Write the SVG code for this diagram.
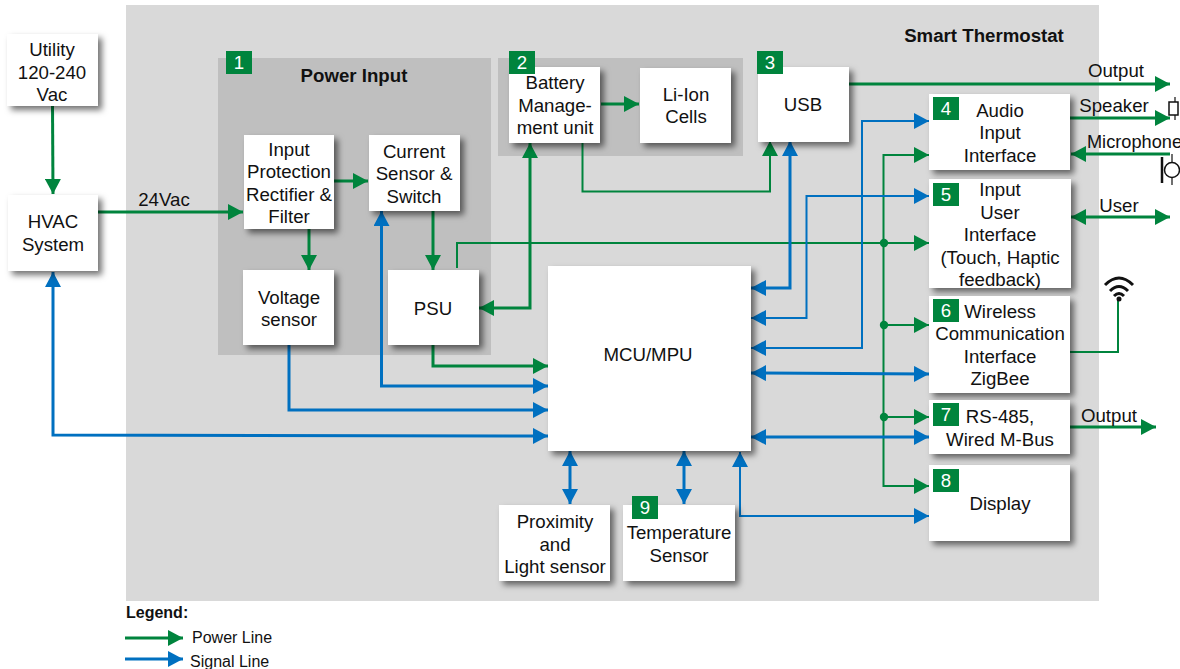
<svg xmlns="http://www.w3.org/2000/svg" width="1180" height="669" viewBox="0 0 1180 669">
<defs>
<filter id="sh" x="-20%" y="-20%" width="140%" height="140%"><feDropShadow dx="4" dy="4" stdDeviation="3" flood-color="#000" flood-opacity="0.55"/></filter>
<marker id="g" markerUnits="userSpaceOnUse" markerWidth="16" markerHeight="16" refX="15" refY="8" orient="auto-start-reverse"><path d="M0 0L15 8L0 16Z" fill="#00843d"/></marker>
<marker id="b" markerUnits="userSpaceOnUse" markerWidth="16" markerHeight="16" refX="15" refY="8" orient="auto-start-reverse"><path d="M0 0L15 8L0 16Z" fill="#0070c0"/></marker>
</defs>
<style>
text{font-family:"Liberation Sans",Arial,sans-serif;font-size:18.67px;fill:#111;text-anchor:middle}
.n rect.w{fill:#fff;filter:url(#sh)}
.tag{fill:#00843d}
.tn{fill:#fff}
.t{font-weight:700}
.p,.s{fill:none;stroke-width:3}
.p{stroke:#00843d}
.s{stroke:#0070c0}
.p.th,.s.th{stroke-width:2}
.e{marker-end:url(#g)}
.eb{marker-start:url(#g);marker-end:url(#g)}
.f{marker-end:url(#b)}
.fb{marker-start:url(#b);marker-end:url(#b)}
.l{text-anchor:start;font-size:16px}
</style>
<g id="backgrounds">
<rect x="126" y="5" width="973" height="596" fill="#d9d9d9"/>
<rect x="218" y="58" width="273" height="297" fill="#bfbfbf"/>
<rect x="498" y="58" width="245" height="98" fill="#bfbfbf"/>
</g>
<text x="984" y="42" class="t">Smart Thermostat</text>
<text x="354" y="82" class="t">Power Input</text>
<g id="connectors">
<path class="p e" d="M52.500 106L53 194"/>
<path class="p e" d="M98 212H243"/>
<path class="p e" d="M334 181H368"/>
<path class="p e" d="M309 228V270"/>
<path class="p e" d="M433 211V270"/>
<path class="p e" d="M601 104H639"/>
<path class="p eb" d="M479 308H530V143"/>
<path class="p th e" d="M582.500 142V191.500H770V141"/>
<path class="p e" d="M849 84H1170"/>
<path class="p e" d="M1070 118H1170"/>
<path class="p e" d="M1170 154H1071"/>
<path class="p eb" d="M1071 217H1170"/>
<path class="p th e" d="M457 268V243H929"/>
<path class="p th eb" d="M929 155H883.500V486H929"/>
<path class="p th e" d="M884 325H929"/>
<path class="p th e" d="M884 417H929"/>
<path class="p e" d="M433 345V366H548"/>
<path class="p th" d="M1070 352H1118V300"/>
<path class="p e" d="M1070 427H1156"/>
<path class="s f" d="M289 345V410H548"/>
<path class="s fb" d="M381.500 211V386H548"/>
<path class="s fb" d="M53 272V435L548 436"/>
<path class="s fb" d="M790 141V288H751"/>
<path class="s th fb" d="M929 121H862V348H751"/>
<path class="s th fb" d="M929 196H806.500V318H751"/>
<path class="s fb" d="M751 373L929 374"/>
<path class="s fb" d="M751 437H929"/>
<path class="s fb" d="M570 451V504"/>
<path class="s fb" d="M684 451V504"/>
<path class="s th fb" d="M740 452V516H929"/>
<path class="p e" d="M125 638H183"/>
<path class="s f" d="M125 659H183"/>
<circle cx="884" cy="243" r="4.200" fill="#00843d"/>
<circle cx="884" cy="325" r="4.200" fill="#00843d"/>
<circle cx="884" cy="417" r="4.200" fill="#00843d"/>
</g>
<g id="utility" class="n"><rect class="w" x="7" y="34" width="91" height="72"/><text x="52" y="56">Utility</text><text x="52" y="79">120-240</text><text x="52" y="101">Vac</text></g>
<g id="hvac" class="n"><rect class="w" x="8" y="195" width="90" height="76"/><text x="53" y="228">HVAC</text><text x="53" y="251">System</text></g>
<g id="input-protection" class="n"><rect class="w" x="244" y="135" width="90" height="94"/><text x="289" y="156">Input</text><text x="289" y="178">Protection</text><text x="289" y="201">Rectifier &amp;</text><text x="289" y="223">Filter</text></g>
<g id="current-sensor" class="n"><rect class="w" x="369" y="135" width="91" height="76"/><text x="414" y="158">Current</text><text x="414" y="180">Sensor &amp;</text><text x="414" y="203">Switch</text></g>
<g id="voltage-sensor" class="n"><rect class="w" x="243" y="270" width="91" height="75"/><text x="289" y="304">Voltage</text><text x="289" y="326">sensor</text></g>
<g id="psu" class="n"><rect class="w" x="388" y="270" width="91" height="75"/><text x="433" y="315">PSU</text></g>
<g id="battery" class="n"><rect class="w" x="509" y="67" width="91" height="76"/><text x="555" y="89">Battery</text><text x="555" y="112">Manage-</text><text x="555" y="134">ment unit</text></g>
<g id="li-ion" class="n"><rect class="w" x="640" y="68" width="91" height="75"/><text x="686" y="101">Li-Ion</text><text x="686" y="123">Cells</text></g>
<g id="usb" class="n"><rect class="w" x="758" y="67" width="91" height="75"/><text x="803" y="111">USB</text></g>
<g id="audio" class="n"><rect class="w" x="929" y="94" width="141" height="76"/><text x="1000" y="117">Audio</text><text x="1000" y="139">Input</text><text x="1000" y="162">Interface</text></g>
<g id="user-interface" class="n"><rect class="w" x="929" y="179" width="142" height="109"/><text x="1000" y="196">Input</text><text x="1000" y="219">User</text><text x="1000" y="241">Interface</text><text x="1000" y="264">(Touch, Haptic</text><text x="1000" y="286">feedback)</text></g>
<g id="wireless" class="n"><rect class="w" x="929" y="296" width="141" height="97"/><text x="1000" y="318">Wireless</text><text x="1000" y="340">Communication</text><text x="1000" y="363">Interface</text><text x="1000" y="385">ZigBee</text></g>
<g id="rs485" class="n"><rect class="w" x="929" y="400" width="141" height="54"/><text x="1000" y="423">RS-485,</text><text x="1000" y="446">Wired M-Bus</text></g>
<g id="display" class="n"><rect class="w" x="929" y="465" width="141" height="76"/><text x="1000" y="510">Display</text></g>
<g id="mcu" class="n"><rect class="w" x="548" y="266" width="203" height="185"/><text x="648" y="361">MCU/MPU</text></g>
<g id="proximity" class="n"><rect class="w" x="499" y="505" width="111" height="76"/><text x="555" y="528">Proximity</text><text x="555" y="551">and</text><text x="555" y="573">Light sensor</text></g>
<g id="temperature" class="n"><rect class="w" x="623" y="505" width="112" height="76"/><text x="679" y="539">Temperature</text><text x="679" y="562">Sensor</text></g>
<g id="tags">
<rect class="tag" x="226" y="51" width="26" height="23"/><text class="tn" x="239" y="69">1</text>
<rect class="tag" x="509" y="51" width="26" height="23"/><text class="tn" x="522" y="69">2</text>
<rect class="tag" x="757" y="51" width="26" height="23"/><text class="tn" x="770" y="69">3</text>
<rect class="tag" x="933" y="97" width="26" height="23"/><text class="tn" x="946" y="115">4</text>
<rect class="tag" x="933" y="183" width="26" height="23"/><text class="tn" x="946" y="201">5</text>
<rect class="tag" x="933" y="299" width="26" height="23"/><text class="tn" x="946" y="317">6</text>
<rect class="tag" x="933" y="403" width="26" height="23"/><text class="tn" x="946" y="421">7</text>
<rect class="tag" x="933" y="469" width="26" height="23"/><text class="tn" x="946" y="487">8</text>
<rect class="tag" x="632" y="496" width="26" height="23"/><text class="tn" x="645" y="514">9</text>
</g>
<text x="164" y="206">24Vac</text>
<text x="1116" y="77">Output</text>
<text x="1114" y="112">Speaker</text>
<text x="1134.500" y="148" style="font-size:18.2px">Microphone</text>
<text x="1119" y="212">User</text>
<text x="1109" y="422">Output</text>
<g id="icons" fill="none" stroke="#111">
<rect x="1169" y="102" width="9" height="13" stroke-width="1.500"/><path d="M1175 97V102M1175 115V120" stroke-width="1.200"/>
<path d="M1162 157V183" stroke-width="2.500"/><circle cx="1172" cy="170" r="7.500" stroke-width="1.500"/><path d="M1172 154V162M1172 178V185" stroke-width="1.200"/>
<path d="M1105 285Q1119 271 1133 285M1110 291Q1119 282 1128 291M1114 296Q1119 291 1124 296" stroke-width="3"/>
<circle cx="1119" cy="299" r="2.500" fill="#111" stroke="none"/>
</g>
<text x="126" y="618" class="t" style="text-anchor:start;font-size:16px">Legend:</text>
<text x="192" y="643" class="l">Power Line</text>
<text x="190" y="666.500" class="l">Signal Line</text>
</svg>
